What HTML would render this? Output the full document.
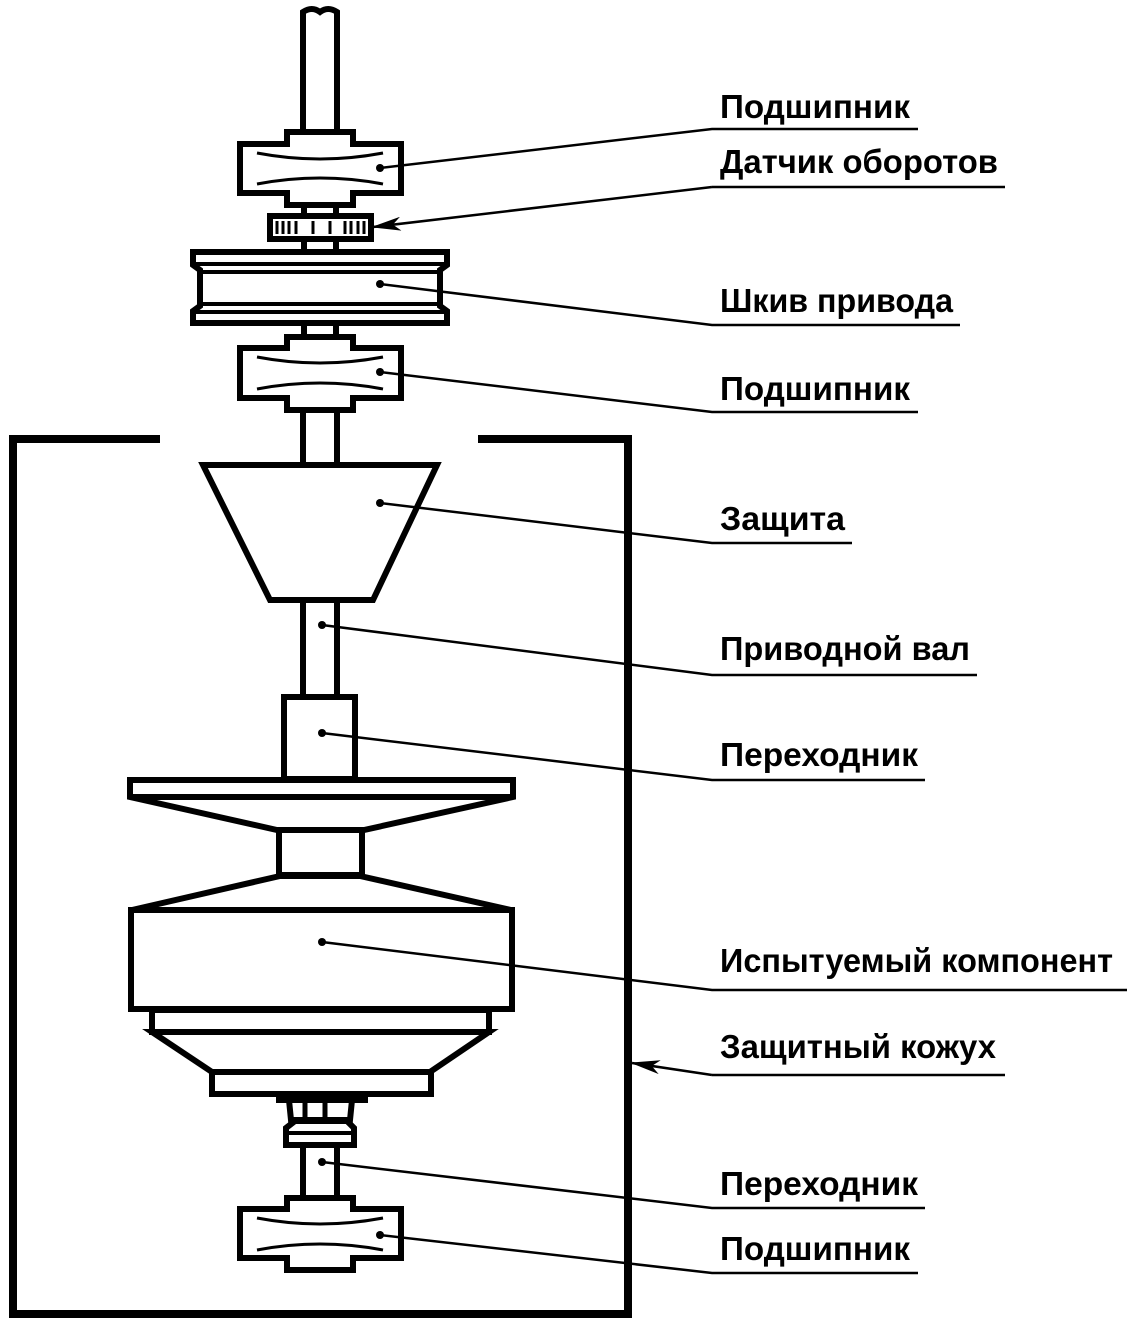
<!DOCTYPE html>
<html><head><meta charset="utf-8"><style>
html,body{margin:0;padding:0;background:#fff;}
svg{display:block;}
text{font-family:"Liberation Sans",Arial,sans-serif;font-size:33px;font-weight:bold;fill:#000;}
</style></head><body>
<svg width="1130" height="1330" viewBox="0 0 1130 1330" xmlns="http://www.w3.org/2000/svg">
<defs>
<marker id="ar" markerWidth="30" markerHeight="14" refX="28" refY="7" orient="auto" markerUnits="userSpaceOnUse">
<path d="M0,0 L30,7 L0,14 L8,7 Z" fill="#000"/>
</marker>
</defs>
<g fill="#fff" stroke="#000" stroke-width="6" stroke-linejoin="miter">
<path d="M303,130 L303,12 Q312,6 320,12 Q328,6 337,12 L337,130" />
<path d="M287,132 H353 V144 H401 V193 H353 V205 H287 V193 H240 V144 H287 Z"/>
<path d="M257,153 Q320,165 383,153 M257,184 Q320,172 383,184" fill="none" stroke-width="3"/>
<path d="M304,205 V215 M336,205 V215" />
<rect x="270" y="216" width="101" height="23"/>
<path d="M277,221V234 M283,221V234 M289,221V234 M296,221V234 M313,221V234 M330,221V234 M345,221V234 M351,221V234 M358,221V234 M364,221V234" stroke-width="3"/>
<path d="M304,240 V252 M336,240 V252" />
<path d="M193,252 H447 V265 L440,270 V306 L447,311 V323 H193 V311 L200,306 V270 L193,265 Z"/>
<path d="M195,264 H445 M202,272 H438 M202,304 H438 M195,312 H445" fill="none" stroke-width="4"/>
<path d="M304,324 V336 M336,324 V336" />
<path d="M287,337 H353 V348 H401 V398 H353 V410 H287 V398 H240 V348 H287 Z"/>
<path d="M257,357 Q320,369 383,357 M257,389 Q320,377 383,389" fill="none" stroke-width="3"/>
<path d="M303,410 V464 M337,410 V464" />
<path d="M160,439 H13 V1314 H628 V439 H478" fill="none" stroke-width="8"/>
<path d="M203,465 H437 L373,600 H270 Z"/>
<path d="M303,600 V697 M337,600 V697" />
<rect x="284" y="697" width="71" height="82"/>
<path d="M130,780 H513 V797 L364,830 H277 L130,797 Z"/>
<path d="M133,797 H510" fill="none" stroke-width="6"/>
<rect x="279" y="830" width="83" height="45"/>
<path d="M280,876 L132,910 H511 L360,876 Z"/>
<rect x="131" y="910" width="381" height="99"/>
<rect x="152" y="1010" width="337" height="22"/>
<path d="M152,1032 H489 L430,1072 H212 Z"/>
<rect x="212" y="1072" width="219" height="22"/>
<rect x="279" y="1094" width="86" height="6"/>
<path d="M289,1100 H352 L350,1120 H291 Z"/>
<path d="M305,1100 V1120 M325,1100 V1120" stroke-width="5"/>
<path d="M295,1121 H347 L354,1128 V1145 H286 V1128 Z"/>
<path d="M289,1133 H351" stroke-width="4"/>
<path d="M303,1146 V1197 M337,1146 V1197"/>
<path d="M287,1198 H353 V1209 H401 V1258 H353 V1270 H287 V1258 H240 V1209 H287 Z"/>
<path d="M257,1218 Q320,1230 383,1218 M257,1250 Q320,1238 383,1250" fill="none" stroke-width="3"/>
</g>
<g stroke="#000" stroke-width="2.5" fill="none">
<path d="M380,168 L712,129 H918"/>
<path d="M712,187 L373,227" marker-end="url(#ar)"/>
<path d="M712,187 H1005"/>
<path d="M380,284 L712,325 H960"/>
<path d="M380,372 L712,412 H918"/>
<path d="M380,503 L712,543 H852"/>
<path d="M322,625 L712,675 H977"/>
<path d="M322,733 L712,780 H925"/>
<path d="M322,942 L712,990 H1127"/>
<path d="M712,1075 L632,1063" marker-end="url(#ar)"/>
<path d="M712,1075 H1005"/>
<path d="M322,1162 L712,1208 H925"/>
<path d="M380,1235 L712,1273 H918"/>
</g>
<g fill="#000">
<circle cx="380" cy="168" r="4"/><circle cx="380" cy="284" r="4"/><circle cx="380" cy="372" r="4"/>
<circle cx="380" cy="503" r="4"/><circle cx="322" cy="625" r="4"/><circle cx="322" cy="733" r="4"/>
<circle cx="322" cy="942" r="4"/><circle cx="322" cy="1162" r="4"/><circle cx="380" cy="1235" r="4"/>
</g>
<text x="720" y="118" textLength="190" lengthAdjust="spacingAndGlyphs">Подшипник</text>
<text x="720" y="173" textLength="278" lengthAdjust="spacingAndGlyphs">Датчик оборотов</text>
<text x="720" y="312" textLength="233" lengthAdjust="spacingAndGlyphs">Шкив привода</text>
<text x="720" y="400" textLength="190" lengthAdjust="spacingAndGlyphs">Подшипник</text>
<text x="720" y="530" textLength="125" lengthAdjust="spacingAndGlyphs">Защита</text>
<text x="720" y="660" textLength="250" lengthAdjust="spacingAndGlyphs">Приводной вал</text>
<text x="720" y="766" textLength="198" lengthAdjust="spacingAndGlyphs">Переходник</text>
<text x="720" y="972" textLength="393" lengthAdjust="spacingAndGlyphs">Испытуемый компонент</text>
<text x="720" y="1058" textLength="276" lengthAdjust="spacingAndGlyphs">Защитный кожух</text>
<text x="720" y="1195" textLength="198" lengthAdjust="spacingAndGlyphs">Переходник</text>
<text x="720" y="1260" textLength="190" lengthAdjust="spacingAndGlyphs">Подшипник</text>
</svg>
</body></html>
